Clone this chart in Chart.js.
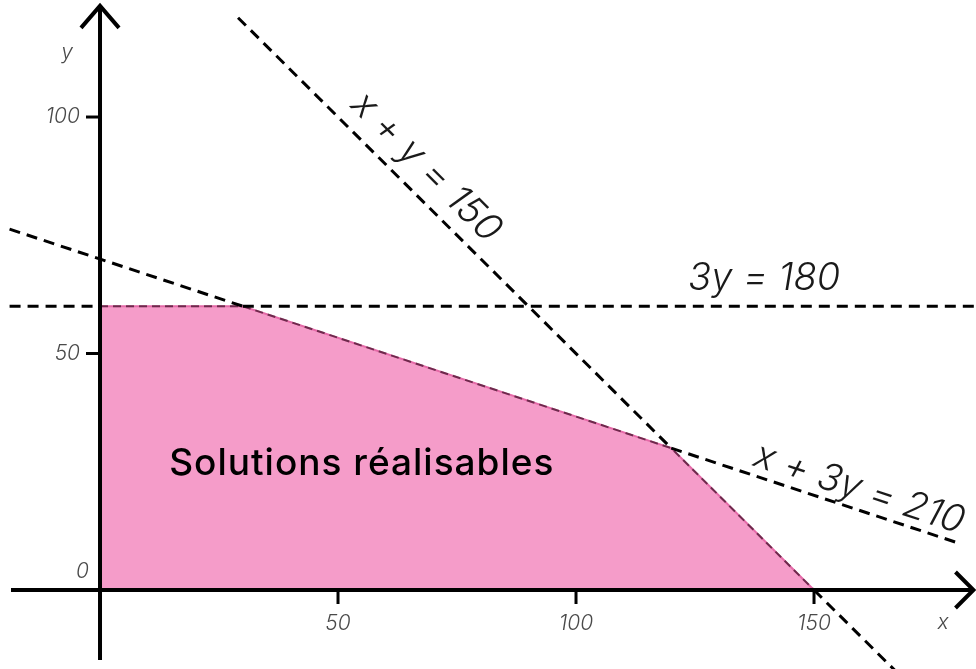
<!DOCTYPE html>
<html><head><meta charset="utf-8">
<script src="https://cdn.jsdelivr.net/npm/chart.js@4/dist/chart.umd.min.js"></script>
<style>html,body{margin:0;padding:0;background:#fff}#wrap{width:976px;height:669px;position:relative}</style>
</head><body><div id="wrap"><canvas id="c"></canvas></div>
<script>
// Feasible region vertices
const regionX = [0, 0, 30, 120, 150];
const regionY = [0, 60, 60, 30, 0];
// Boundary of the region lying on the constraint lines
const edgeX = [0, 30, 120, 150];
const edgeY = [60, 60, 30, 0];
// x + y = 150 (outside the region)
const sumUpperX = [29, 120], sumUpperY = [121, 30];
const sumLowerX = [150, 167], sumLowerY = [0, -17];
// 3y = 180
const capLeftX = [-19, 0], capLeftY = [60, 60];
const capRightX = [30, 184], capRightY = [60, 60];
// x + 3y = 210
const mixLeftX = [-19, 30], mixLeftY = [76.3, 60];
const mixRightX = [120, 181], mixRightY = [30, 9.7];
// ticks
const xTicks = [50, 100, 150];
const yTicks = [50, 100];
const zeroLabel = '0';
const xAxisName = 'x', yAxisName = 'y';
// annotations
const labelTexts = ['x + y = 150', '3y = 180', 'x + 3y = 210', 'Solutions réalisables'];

const pts = (xs, ys) => xs.map((x, i) => ({x, y: ys[i]}));
const dashed = (xs, ys) => ({data: pts(xs, ys), borderColor: '#000', borderWidth: 3, borderDash: [11, 7], pointRadius: 0, fill: false, order: 1, tension: 0});

const overlay = {
  id: 'overlay',
  afterDatasetsDraw(chart) {
    const {ctx, scales: {x, y}} = chart;
    const X = v => x.getPixelForValue(v), Y = v => y.getPixelForValue(v);
    ctx.save();
    ctx.strokeStyle = '#000'; ctx.lineWidth = 4; ctx.lineCap = 'butt'; ctx.setLineDash([]);
    // y axis
    ctx.beginPath(); ctx.moveTo(X(0), Y(-14.8)); ctx.lineTo(X(0), Y(123.5)); ctx.stroke();
    ctx.beginPath(); ctx.moveTo(X(0) - 19, Y(123.5) + 22); ctx.lineTo(X(0), Y(123.5)); ctx.lineTo(X(0) + 19, Y(123.5) + 22); ctx.stroke();
    // x axis
    ctx.beginPath(); ctx.moveTo(X(-18.7), Y(0)); ctx.lineTo(X(183.5), Y(0)); ctx.stroke();
    ctx.beginPath(); ctx.moveTo(X(183.5) - 18, Y(0) - 18); ctx.lineTo(X(183.5), Y(0)); ctx.lineTo(X(183.5) - 18, Y(0) + 18); ctx.stroke();
    // ticks
    ctx.lineWidth = 3;
    xTicks.forEach(v => { ctx.beginPath(); ctx.moveTo(X(v), Y(0)); ctx.lineTo(X(v), Y(0) + 14); ctx.stroke(); });
    yTicks.forEach(v => { ctx.beginPath(); ctx.moveTo(X(0) - 14, Y(v)); ctx.lineTo(X(0), Y(v)); ctx.stroke(); });
    // tick labels
    ctx.fillStyle = '#4a4a4a';
    ctx.font = 'italic 300 21px Inter, "Liberation Sans", sans-serif';
    ctx.textAlign = 'center'; ctx.textBaseline = 'alphabetic';
    xTicks.forEach(v => ctx.fillText(String(v), X(v), Y(0) + 40));
    ctx.fillText(xAxisName, X(177.1), Y(0) + 39);
    ctx.textAlign = 'right'; ctx.textBaseline = 'middle';
    yTicks.forEach(v => ctx.fillText(String(v), X(0) - 20, Y(v)));
    ctx.fillText(zeroLabel, X(0) - 11, Y(0) - 18);
    ctx.fillText(yAxisName, X(0) - 27, Y(113.7));
    // equation labels
    ctx.fillStyle = '#1a1a1a';
    ctx.font = 'italic 300 38px Inter, "Liberation Sans", sans-serif';
    ctx.textAlign = 'center';
    const rot = (t, vx, vy, ang) => { ctx.save(); ctx.translate(X(vx), Y(vy)); ctx.rotate(ang * Math.PI / 180); ctx.fillText(t, 0, 0); ctx.restore(); };
    ctx.textBaseline = 'middle';
    rot(labelTexts[0], 68.5, 89.4, 45);
    ctx.textBaseline = 'alphabetic';
    rot(labelTexts[1], 139.5, 63.4, 0);
    ctx.textBaseline = 'middle';
    rot(labelTexts[2], 159.5, 21.4, 18.3);
    ctx.fillStyle = '#000';
    ctx.font = '500 37px Inter, "Liberation Sans", sans-serif';
    ctx.letterSpacing = '1px';
    ctx.textBaseline = 'alphabetic';
    ctx.fillText(labelTexts[3], X(55), Y(24.3));
    ctx.restore();
  }
};

new Chart(document.getElementById('c'), {
  type: 'line',
  data: {
    datasets: [
      {data: pts(regionX, regionY), borderColor: '#e56aa8', borderWidth: 2, backgroundColor: '#f59cc9', fill: 'origin', pointRadius: 0, order: 10, tension: 0},
      {data: pts(edgeX, edgeY), borderColor: 'rgba(70,20,45,0.75)', borderWidth: 2, borderDash: [8, 5], pointRadius: 0, fill: false, order: 5, tension: 0},
      dashed(sumUpperX, sumUpperY), dashed(sumLowerX, sumLowerY),
      dashed(capLeftX, capLeftY), dashed(capRightX, capRightY),
      dashed(mixLeftX, mixLeftY), dashed(mixRightX, mixRightY)
    ]
  },
  options: {
    responsive: true, maintainAspectRatio: false, animation: false,
    layout: {padding: 0},
    plugins: {legend: {display: false}, tooltip: {enabled: false}},
    scales: {
      x: {type: 'linear', min: -21.01, max: 184.03, display: false},
      y: {type: 'linear', min: -16.7, max: 124.74, display: false}
    }
  },
  plugins: [overlay]
});
</script></body></html>
